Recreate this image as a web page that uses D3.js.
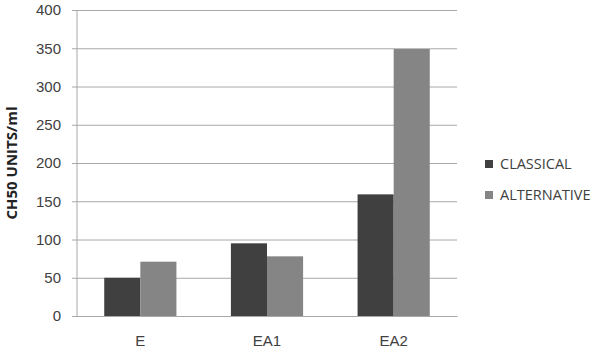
<!DOCTYPE html>
<html>
<head>
<meta charset="utf-8">
<script src="https://cdn.jsdelivr.net/npm/d3@7"></script>
<style>
  body { margin: 0; background: #fff; }
  svg { display: block; font-family: 'Open Sans', 'Liberation Sans', sans-serif; }
</style>
</head>
<body>
<svg></svg>
<script>
const categories = ['E', 'EA1', 'EA2'];
const seriesNames = ['CLASSICAL', 'ALTERNATIVE'];
const classical = [50, 95, 159];
const alternative = [71, 78, 349];
const yTicks = [0, 50, 100, 150, 200, 250, 300, 350, 400];

const colors = ['#404040', '#858585'];

const svg = d3.select('svg')
	.attr('width', 600)
	.attr('height', 354);

const margin = { top: 10, right: 143, bottom: 38, left: 77 },
	innerWidth = 600 - margin.left - margin.right,
	innerHeight = 354 - margin.top - margin.bottom;

const data = categories.map((c, i) => ({ cat: c, values: [classical[i], alternative[i]] }));

const xScale = d3.scaleBand()
	.domain(categories)
	.range([0, innerWidth])
	.paddingInner(0.43)
	.paddingOuter(0.215);

const xSub = d3.scaleBand()
	.domain(seriesNames)
	.range([0, xScale.bandwidth()]);

const yScale = d3.scaleLinear()
	.domain([0, 400])
	.range([innerHeight, 0]);

const g = svg.append('g')
	.attr('transform', `translate(${margin.left}, ${margin.top})`);

// gridlines + y axis
const yAxis = d3.axisLeft(yScale)
	.tickValues(yTicks)
	.tickSize(-innerWidth)
	.tickPadding(16);

const yAxisG = g.append('g').call(yAxis);
yAxisG.select('.domain').remove();
yAxisG.selectAll('.tick line')
	.attr('stroke', '#a8a8a8')
	.attr('x1', -5);
yAxisG.selectAll('.tick text')
	.attr('fill', '#404040')
	.style('font-size', '15px');

g.append('line')
	.attr('x1', 0).attr('x2', 0)
	.attr('y1', 0).attr('y2', innerHeight)
	.attr('stroke', '#a8a8a8');

// bars
const groups = g.selectAll('.grp')
	.data(data)
	.enter().append('g')
	.attr('transform', d => `translate(${xScale(d.cat)}, 0)`);

groups.selectAll('rect')
	.data(d => d.values.map((v, i) => ({ key: seriesNames[i], v, i })))
	.enter().append('rect')
	.attr('x', d => xSub(d.key))
	.attr('width', xSub.bandwidth())
	.attr('y', d => yScale(d.v))
	.attr('height', d => innerHeight - yScale(d.v))
	.attr('fill', d => colors[d.i]);

// x axis
const xAxis = d3.axisBottom(xScale).tickSize(0).tickPadding(19);
const xAxisG = g.append('g')
	.attr('transform', `translate(0, ${innerHeight})`)
	.call(xAxis);
xAxisG.select('.domain').attr('stroke', '#a8a8a8');
xAxisG.selectAll('.tick text')
	.attr('fill', '#404040')
	.style('font-size', '15px');

// y axis title
svg.append('text')
	.attr('transform', `translate(17, ${margin.top + innerHeight / 2}) rotate(-90)`)
	.attr('text-anchor', 'middle')
	.attr('fill', '#222')
	.style('font-size', '15px')
	.style('font-weight', 'bold')
	.text('CH50 UNITS/ml');

// legend
const legend = svg.append('g')
	.attr('transform', 'translate(485, 161)');

const items = legend.selectAll('g')
	.data(seriesNames)
	.enter().append('g')
	.attr('transform', (d, i) => `translate(0, ${i * 31})`);

items.append('rect')
	.attr('width', 8).attr('height', 8)
	.attr('y', -1)
	.attr('fill', (d, i) => colors[i]);

items.append('text')
	.attr('x', 15)
	.attr('y', 3)
	.attr('dy', '0.35em')
	.attr('fill', '#404040')
	.style('font-size', '14.5px')
	.text(d => d);
</script>
</body>
</html>
